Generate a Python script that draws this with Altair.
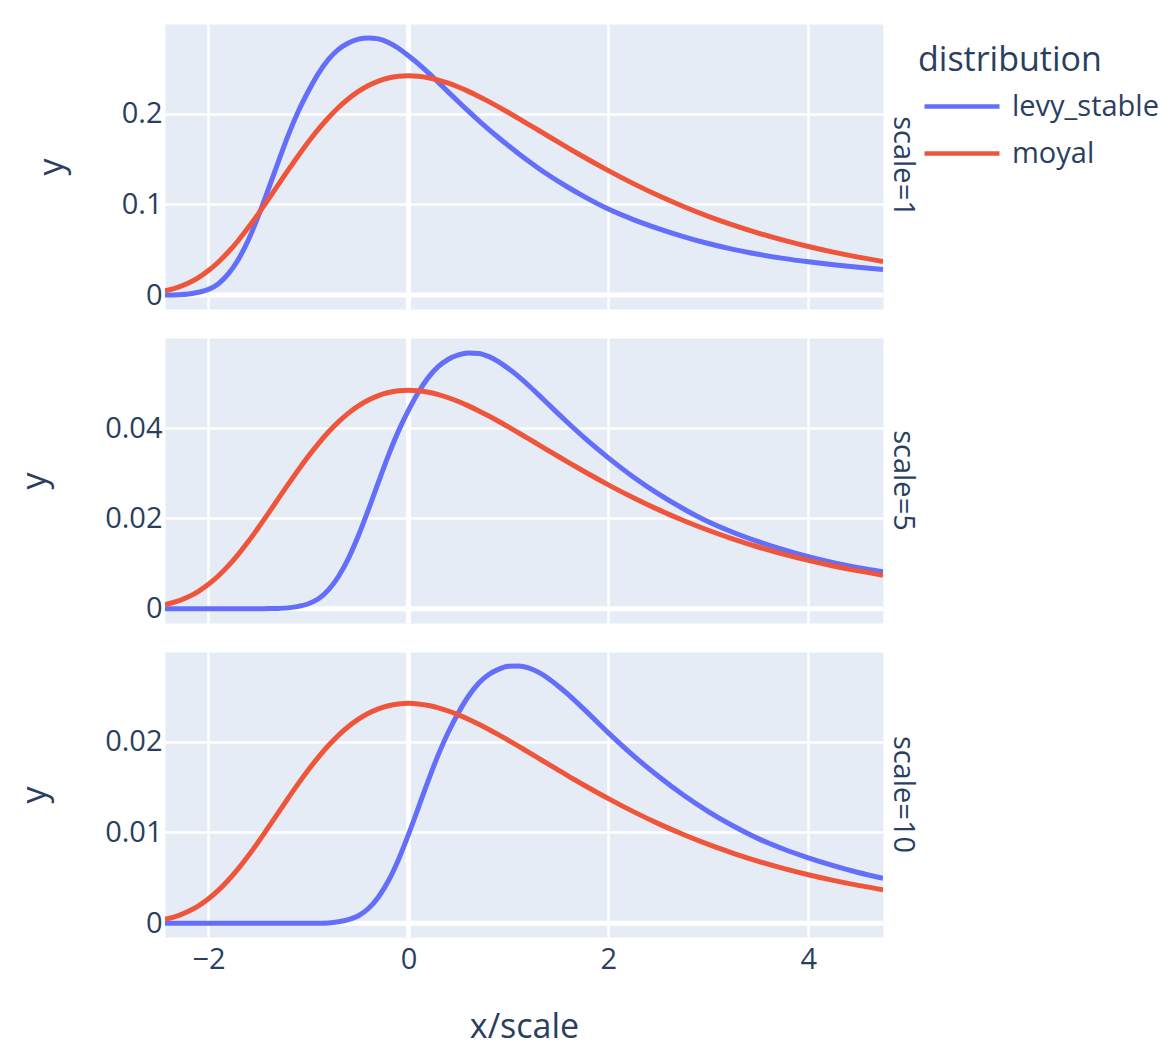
import altair as alt
import pandas as pd

# x/scale sample positions (shared by all panels)
X_VALUES = [-2.435, -2.3, -2.2, -2.1, -2.0, -1.9, -1.8, -1.7, -1.6, -1.5, -1.4, -1.3, -1.2,
            -1.1, -1.0, -0.9, -0.8, -0.7, -0.6, -0.5, -0.4, -0.3, -0.2, -0.1, 0.0, 0.1, 0.2,
            0.3, 0.4, 0.5, 0.6, 0.7, 0.8, 0.9, 1.0, 1.1, 1.2, 1.3, 1.4, 1.5, 1.6, 1.75, 2.0,
            2.25, 2.5, 2.75, 3.0, 3.25, 3.5, 3.75, 4.0, 4.25, 4.5, 4.747]

# scale=1
LEVY_1 = [0.00005, 0.0003, 0.0010, 0.0030, 0.0062, 0.0125, 0.0235, 0.0395, 0.0610, 0.0875,
          0.1170, 0.1475, 0.1770, 0.2030, 0.2250, 0.2445, 0.2600, 0.2710, 0.2780, 0.2822,
          0.2836, 0.2825, 0.2785, 0.2722, 0.2640, 0.2550, 0.2450, 0.2345, 0.2238, 0.2132,
          0.2028, 0.1927, 0.1830, 0.1737, 0.1648, 0.1561, 0.1478, 0.1399, 0.1324, 0.1253,
          0.1186, 0.1091, 0.0948, 0.0832, 0.0733, 0.0645, 0.0568, 0.0503, 0.0449, 0.0404,
          0.0366, 0.0333, 0.0305, 0.0281]
MOYAL_1 = [0.00448, 0.00860, 0.01315, 0.01922, 0.02697, 0.03645, 0.04765, 0.06044, 0.07462,
           0.08983, 0.10577, 0.12203, 0.13822, 0.15396, 0.16896, 0.18291, 0.19559, 0.20684,
           0.21653, 0.22462, 0.23111, 0.23603, 0.23940, 0.24134, 0.24197, 0.24138, 0.23972,
           0.23708, 0.23361, 0.22942, 0.22462, 0.21932, 0.21361, 0.20758, 0.20131, 0.19487,
           0.18833, 0.18174, 0.17513, 0.16856, 0.16204, 0.15247, 0.13717, 0.12287, 0.10970,
           0.09770, 0.08683, 0.07706, 0.06829, 0.06046, 0.05350, 0.04731, 0.04182, 0.03701]

# scale=5
LEVY_5 = [0.0, 0.0, 0.0, 0.0, 0.0, 0.0, 0.0, 0.0, 0.0, 0.0, 0.00001,
          0.00005, 0.00017, 0.0005, 0.00108, 0.00219, 0.00416, 0.00712, 0.01115, 0.01620,
          0.02195, 0.02801, 0.03395, 0.03933, 0.04392, 0.04794, 0.05124, 0.05366, 0.05526,
          0.05623, 0.05665, 0.05655, 0.05590, 0.05475, 0.05320, 0.05144, 0.04949, 0.04741,
          0.04528, 0.04316, 0.04107, 0.03804, 0.03340, 0.02916, 0.02541, 0.02213, 0.01924,
          0.01687, 0.01485, 0.01307, 0.01151, 0.01019, 0.00909, 0.00818]
MOYAL_5 = [0.00090, 0.00172, 0.00263, 0.00384, 0.00539, 0.00729, 0.00953, 0.01209, 0.01492,
           0.01797, 0.02115, 0.02441, 0.02764, 0.03079, 0.03379, 0.03658, 0.03912, 0.04137,
           0.04331, 0.04492, 0.04622, 0.04721, 0.04788, 0.04827, 0.04839, 0.04828, 0.04794,
           0.04742, 0.04672, 0.04588, 0.04492, 0.04386, 0.04272, 0.04152, 0.04026, 0.03897,
           0.03767, 0.03635, 0.03503, 0.03371, 0.03241, 0.03049, 0.02743, 0.02457, 0.02194,
           0.01954, 0.01737, 0.01541, 0.01366, 0.01209, 0.01070, 0.00946, 0.00836, 0.00740]

# scale=10
LEVY_10 = [0.0, 0.0, 0.0, 0.0, 0.0, 0.0, 0.0, 0.0, 0.0, 0.0, 0.0, 0.0, 0.0, 0.0, 0.0,
           0.00002, 0.00005, 0.00017, 0.00041, 0.00084, 0.00163, 0.00290, 0.00469, 0.00701,
           0.00976, 0.01274, 0.01576, 0.01859, 0.02105, 0.02317, 0.02498, 0.02638, 0.02734,
           0.02794, 0.02827, 0.02832, 0.02811, 0.02764, 0.02694, 0.02609, 0.02516, 0.02362,
           0.02096, 0.01845, 0.01618, 0.01412, 0.01230, 0.01071, 0.00932, 0.00818, 0.00721,
           0.00635, 0.00559, 0.00496]
MOYAL_10 = [0.00045, 0.00086, 0.00132, 0.00192, 0.00270, 0.00365, 0.00477, 0.00604, 0.00746,
            0.00898, 0.01058, 0.01220, 0.01382, 0.01540, 0.01690, 0.01829, 0.01956, 0.02068,
            0.02165, 0.02246, 0.02311, 0.02360, 0.02394, 0.02413, 0.02420, 0.02414, 0.02397,
            0.02371, 0.02336, 0.02294, 0.02246, 0.02193, 0.02136, 0.02076, 0.02013, 0.01949,
            0.01883, 0.01817, 0.01751, 0.01686, 0.01620, 0.01525, 0.01372, 0.01229, 0.01097,
            0.00977, 0.00868, 0.00771, 0.00683, 0.00605, 0.00535, 0.00473, 0.00418, 0.00370]

ROW_LABELS = ["scale=1", "scale=5", "scale=10"]
Y_TICKS = [[0, 0.1, 0.2], [0, 0.02, 0.04], [0, 0.01, 0.02]]
Y_DOMAINS = [[-0.01544, 0.29895], [-0.00318, 0.05996], [-0.0015, 0.02985]]
X_TICKS = [-2, 0, 2, 4]
X_DOMAIN = [-2.435, 4.747]
SERIES = ["levy_stable", "moyal"]
COLORS = ["#636efa", "#EF553B"]

TEXT = "#2a3f5f"
FONT = "Open Sans"
W, H = 718, 285


def panel(i, levy, moyal, bottom):
    n = len(X_VALUES)
    df = pd.DataFrame({
        "x": X_VALUES + X_VALUES,
        "y": levy + moyal,
        "distribution": [SERIES[0]] * n + [SERIES[1]] * n,
    })
    if bottom:
        xaxis = alt.Axis(values=X_TICKS, format="~g", title="x/scale", labelPadding=8,
                         titlePadding=36)
    else:
        xaxis = alt.Axis(values=X_TICKS, labels=False, title=None)
    yaxis = alt.Axis(values=Y_TICKS[i], format="~g", title="y", labelPadding=3,
                     titlePadding=52)
    xscale = alt.Scale(domain=X_DOMAIN, nice=False, zero=False)
    yscale = alt.Scale(domain=Y_DOMAINS[i], nice=False, zero=False)

    lines = alt.Chart(df).mark_line(strokeWidth=5, interpolate="monotone", clip=True).encode(
        x=alt.X("x:Q", scale=xscale, axis=xaxis),
        y=alt.Y("y:Q", scale=yscale, axis=yaxis),
        color=alt.Color("distribution:N",
                        scale=alt.Scale(domain=SERIES, range=COLORS),
                        legend=alt.Legend(title="distribution", orient="none",
                                          legendX=753, legendY=20,
                                          symbolType="stroke", symbolSize=5625,
                                          symbolStrokeWidth=4.5, symbolOffset=4,
                                          labelOffset=10, clipHeight=45, rowPadding=2,
                                          titlePadding=6, titleLimit=400, labelLimit=400)),
    )
    zero = pd.DataFrame({"x": [0], "y": [0]})
    zx = alt.Chart(zero).mark_rule(color="white", strokeWidth=5).encode(
        x=alt.X("x:Q", scale=xscale, axis=xaxis))
    zy = alt.Chart(zero).mark_rule(color="white", strokeWidth=5).encode(
        y=alt.Y("y:Q", scale=yscale, axis=yaxis))
    lab = alt.Chart(pd.DataFrame({"t": [ROW_LABELS[i]]})).mark_text(
        angle=90, align="center", baseline="middle", fontSize=29, font=FONT, color=TEXT
    ).encode(text="t:N", x=alt.value(W + 20), y=alt.value(H / 2))
    return alt.layer(zx, zy, lines, lab).properties(width=W, height=H)


chart = alt.vconcat(
    panel(0, LEVY_1, MOYAL_1, False),
    panel(1, LEVY_5, MOYAL_5, False),
    panel(2, LEVY_10, MOYAL_10, True),
    spacing=29,
    bounds="flush",
).properties(
    padding={"left": 10, "top": 13, "right": 0, "bottom": 10}
).configure_view(
    fill="#E5ECF6", stroke="transparent"
).configure_axis(
    domain=False, ticks=False, grid=True, gridColor="white", gridWidth=2.5,
    labelFont=FONT, labelFontSize=29, labelColor=TEXT,
    titleFont=FONT, titleFontSize=34, titleColor=TEXT, titleFontWeight="normal",
).configure_legend(
    titleFont=FONT, titleFontSize=34, titleColor=TEXT, titleFontWeight="normal",
    labelFont=FONT, labelFontSize=29, labelColor=TEXT,
)

chart.save("out.html", embed_options={"renderer": "svg", "actions": False})
